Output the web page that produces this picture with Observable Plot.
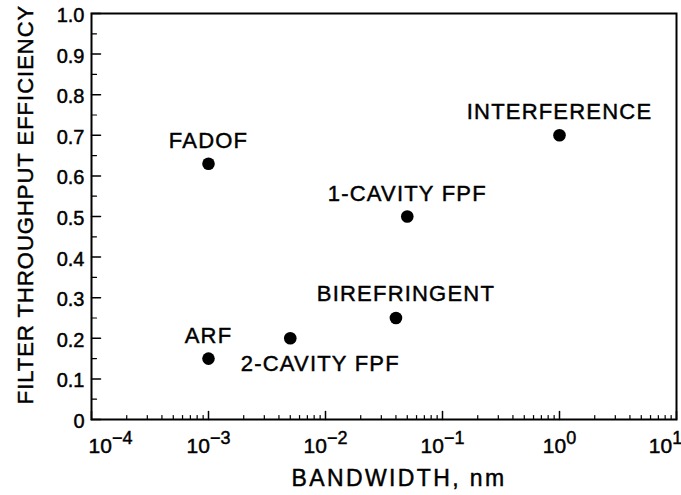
<!DOCTYPE html>
<html>
<head>
<meta charset="utf-8">
<script src="https://cdn.jsdelivr.net/npm/d3@7"></script>
<script src="https://cdn.jsdelivr.net/npm/@observablehq/plot@0.6"></script>
<style>
  html, body { margin: 0; padding: 0; background: #fff; }
  #chart svg { display: block; }
</style>
</head>
<body>
<div id="chart"></div>
<script>
// ---- data ----
const filterNames = ["FADOF", "ARF", "2-CAVITY FPF", "BIREFRINGENT", "1-CAVITY FPF", "INTERFERENCE"];
const bandwidthNm = [0.001, 0.001, 0.005, 0.04, 0.05, 1.0];
const throughputEfficiency = [0.63, 0.15, 0.20, 0.25, 0.50, 0.70];

const xTickValues = [1e-4, 1e-3, 1e-2, 1e-1, 1, 10];
const xTickExponents = ["−4", "−3", "−2", "−1", "0", "1"];
const yTickValues = [0, 0.1, 0.2, 0.3, 0.4, 0.5, 0.6, 0.7, 0.8, 0.9, 1.0];
const yTickLabels = ["0", "0.1", "0.2", "0.3", "0.4", "0.5", "0.6", "0.7", "0.8", "0.9", "1.0"];
const xTitle = "BANDWIDTH, nm";
const yTitle = "FILTER THROUGHPUT EFFICIENCY";

// ---- derived tables ----
const points = filterNames.map((name, i) => ({name, bw: bandwidthNm[i], eff: throughputEfficiency[i]}));
const xLabels = xTickValues.map((v, i) => ({v, t: "10^" + xTickExponents[i]}));
const xMinor = [];
for (let i = 0; i < xTickValues.length - 1; i++) {
  for (let m = 2; m <= 9; m++) xMinor.push(xTickValues[i] * m);
}
const yMinor = yTickValues.slice(0, -1).map(v => v + 0.05);

const stick = {
  draw(context, l) { context.moveTo(0, 0); context.lineTo(0, -l); }
};

const font = "'Liberation Sans', Arial, Helvetica, sans-serif";

const chart = Plot.plot({
  width: 681,
  height: 495,
  marginLeft: 91,
  marginRight: 5,
  marginTop: 13,
  marginBottom: 76,
  style: {fontFamily: font, fontSize: "20px", color: "#000", background: "#fff"},
  x: {type: "log", domain: [1e-4, 10], axis: null},
  y: {domain: [0, 1], axis: null},
  marks: [
    // ticks (inward)
    Plot.vector(xTickValues, {x: d => d, y: 0, length: 8, rotate: 0, anchor: "start", shape: stick, stroke: "#000", strokeWidth: 1.5}),
    Plot.vector(xMinor, {x: d => d, y: 0, length: 4, rotate: 0, anchor: "start", shape: stick, stroke: "#000", strokeWidth: 1.2}),
    Plot.vector(yTickValues, {x: 1e-4, y: d => d, length: 9, rotate: 90, anchor: "start", shape: stick, stroke: "#000", strokeWidth: 1.5}),
    Plot.vector(yMinor, {x: 1e-4, y: d => d, length: 5, rotate: 90, anchor: "start", shape: stick, stroke: "#000", strokeWidth: 1.2}),
    Plot.frame({stroke: "#000", strokeWidth: 2}),
    // y tick labels
    Plot.text(yTickValues, {x: 1e-4, y: d => d, text: (d, i) => yTickLabels[i], textAnchor: "end", dx: -7, dy: 2, fontSize: 20, fill: "#000"}),
    // x tick labels (10 with superscript exponent)
    Plot.text(xLabels.slice(1, -1), {x: "v", y: 0, text: "t", textAnchor: "middle", lineAnchor: "middle", dy: 27, fontSize: 21, fill: "#000"}),
    Plot.text(xLabels.slice(0, 1), {x: "v", y: 0, text: "t", textAnchor: "middle", lineAnchor: "middle", dy: 27, dx: 19, fontSize: 21, fill: "#000"}),
    Plot.text(xLabels.slice(-1), {x: "v", y: 0, text: "t", textAnchor: "middle", lineAnchor: "middle", dy: 27, dx: -11, fontSize: 21, fill: "#000"}),
    // axis titles
    Plot.text([xTitle], {frameAnchor: "bottom", textAnchor: "middle", lineAnchor: "middle", dx: 15, dy: 59, fontSize: 23, fill: "#000"}),
    Plot.text([yTitle], {frameAnchor: "left", textAnchor: "middle", lineAnchor: "middle", rotate: -90, dx: -66, dy: -12, fontSize: 22, fill: "#000"}),
    // points
    Plot.dot(points, {x: "bw", y: "eff", r: 6.3, fill: "#000", stroke: "none"}),
    // point labels
    Plot.text(points.filter(d => d.name !== "2-CAVITY FPF" && d.name !== "BIREFRINGENT"), {x: "bw", y: "eff", text: "name", dy: -23, fontSize: 22, fill: "#000"}),
    Plot.text(points.filter(d => d.name === "BIREFRINGENT"), {x: "bw", y: "eff", text: "name", dx: 10, dy: -24, fontSize: 22, fill: "#000"}),
    Plot.text(points.filter(d => d.name === "2-CAVITY FPF"), {x: "bw", y: "eff", text: "name", dx: 30, dy: 26, fontSize: 22, fill: "#000"})
  ]
});

document.getElementById("chart").appendChild(chart);

// turn "10^e" labels into "10" + superscript exponent
d3.select(chart).selectAll("text").each(function() {
  const s = this.textContent;
  if (!s.startsWith("10^")) return;
  const exp = s.slice(3);
  const t = d3.select(this);
  t.text(null);
  t.append("tspan").text("10");
  t.append("tspan").attr("dy", "-0.5em").attr("font-size", "18px").text(exp);
});

// letter spacing and a slightly heavier stroke for the scanned-Helvetica look
d3.select(chart).selectAll("text").each(function() {
  const s = this.textContent;
  const t = d3.select(this);
  t.style("stroke", "#000").style("stroke-width", "0.45px");
  if (filterNames.includes(s)) t.style("letter-spacing", "1.2px");
  else if (s === xTitle) t.style("letter-spacing", "2.4px");
  else if (s === yTitle) t.style("letter-spacing", "1px");
});
</script>
</body>
</html>
